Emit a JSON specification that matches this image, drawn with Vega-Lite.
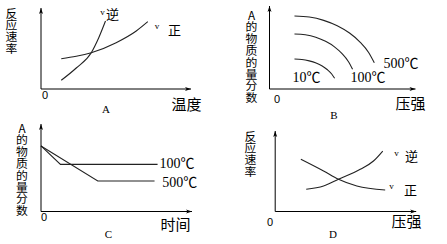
{
  "$schema": "https://vega.github.io/schema/vega-lite/v6.json",
  "padding": {"left": 5, "top": 5, "right": 0, "bottom": 0},
  "background": "white",
  "columns": 2,
  "align": "none",
  "bounds": "flush",
  "spacing": {"row": 35, "column": 77.5},
  "config": {
    "view": {"stroke": null},
    "axis": {"grid": false, "ticks": false, "domain": false, "titleFont": "Noto Sans CJK SC", "titleFontWeight": "normal", "titleColor": "#000", "titleAngle": 0, "titleAlign": "center", "labelFont": "Liberation Sans", "labelFontSize": 11, "labelColor": "#000", "labelFlush": false, "labelOverlap": false},
    "axisX": {"titleBaseline": "middle", "titleFontSize": 15, "labelAlign": "left", "labelBaseline": "top"},
    "axisY": {"labels": false, "titleFontSize": 11.8, "titleLineHeight": 11.8, "titleBaseline": "top"}
  },
  "concat": [
    {
      "width": 150, "height": 83,
      "layer": [
        {
          "data": {"values": [
            {"s": "逆", "x": 13.5, "y": 10.5}, {"s": "逆", "x": 23.5, "y": 25.3}, {"s": "逆", "x": 33.5, "y": 43.7}, {"s": "逆", "x": 38.5, "y": 61.8}, {"s": "逆", "x": 43.0, "y": 81.9},
            {"s": "正", "x": 13.5, "y": 36.5}, {"s": "正", "x": 23.5, "y": 39.4}, {"s": "正", "x": 33.5, "y": 43.7}, {"s": "正", "x": 50.1, "y": 55.8}, {"s": "正", "x": 63.5, "y": 69.9}, {"s": "正", "x": 71.2, "y": 81.1}
          ]},
          "mark": {"type": "line", "interpolate": "monotone", "color": "#222", "strokeWidth": 1.1},
          "encoding": {
            "x": {"field": "x", "type": "quantitative", "scale": {"domain": [0, 100], "nice": false}, "axis": {"title": "温度", "titleX": 145, "titleY": 15, "values": [0], "labelExpr": "'0'", "labelPadding": 0, "labelOffset": 0.5}},
            "y": {"field": "y", "type": "quantitative", "scale": {"domain": [0, 100], "nice": false}, "axis": {"title": ["反", "应", "速", "率"], "titleX": -30, "titleY": 2}},
            "detail": {"field": "s"}
          }
        },
        {
          "data": {"values": [{"x": 0, "x2": 0, "y": 0, "y2": 97.6}, {"x": 0, "x2": 100, "y": 0, "y2": 0}]},
          "mark": {"type": "rule", "color": "#000", "strokeWidth": 1},
          "encoding": {
            "x": {"field": "x", "type": "quantitative", "scale": {"domain": [0, 100], "nice": false}},
            "x2": {"field": "x2"},
            "y": {"field": "y", "type": "quantitative", "scale": {"domain": [0, 100], "nice": false}},
            "y2": {"field": "y2"}
          }
        },
        {
          "data": {"values": [{"x": 0, "y": 97.6, "d": "up"}, {"x": 100, "y": 0, "d": "right"}]},
          "mark": {"type": "point", "filled": true, "opacity": 1, "color": "#000", "strokeWidth": 0, "size": 64},
          "encoding": {
            "x": {"field": "x", "type": "quantitative", "scale": {"domain": [0, 100], "nice": false}},
            "y": {"field": "y", "type": "quantitative", "scale": {"domain": [0, 100], "nice": false}},
            "shape": {"field": "d", "type": "nominal", "scale": {"domain": ["up", "right"], "range": ["M0,0L-0.5,1.5L0,1.1L0.5,1.5Z", "M0,0L-1.5,-0.5L-1.1,0L-1.5,0.5Z"]}, "legend": null}
          }
        },
        {
          "data": {"values": [{"t": "v", "x": 41.0, "y": 92.2}, {"t": "v", "x": 77.3, "y": 75.9}]},
          "mark": {"type": "text", "font": "Liberation Serif", "fontSize": 9, "color": "#000", "align": "center", "baseline": "middle"},
          "encoding": {
            "x": {"field": "x", "type": "quantitative", "scale": {"domain": [0, 100], "nice": false}},
            "y": {"field": "y", "type": "quantitative", "scale": {"domain": [0, 100], "nice": false}},
            "text": {"field": "t"}
          }
        },
        {
          "data": {"values": [{"t": "逆", "x": 47.7, "y": 89.2}, {"t": "正", "x": 89.0, "y": 69.9}]},
          "mark": {"type": "text", "font": "Noto Sans CJK SC", "fontSize": 13, "color": "#000", "align": "center", "baseline": "middle"},
          "encoding": {
            "x": {"field": "x", "type": "quantitative", "scale": {"domain": [0, 100], "nice": false}},
            "y": {"field": "y", "type": "quantitative", "scale": {"domain": [0, 100], "nice": false}},
            "text": {"field": "t"}
          }
        },
        {
          "data": {"values": [{"t": "A", "x": 43.3, "y": -25.9}]},
          "mark": {"type": "text", "font": "Liberation Serif", "fontSize": 11, "color": "#000", "align": "center", "baseline": "middle"},
          "encoding": {
            "x": {"field": "x", "type": "quantitative", "scale": {"domain": [0, 100], "nice": false}},
            "y": {"field": "y", "type": "quantitative", "scale": {"domain": [0, 100], "nice": false}},
            "text": {"field": "t"}
          }
        }
      ]
    },
    {
      "width": 146, "height": 83,
      "layer": [
        {
          "data": {"values": [
            {"s": "500", "x": 17.1, "y": 88.0}, {"s": "500", "x": 27.3, "y": 86.7}, {"s": "500", "x": 37.1, "y": 82.7}, {"s": "500", "x": 46.4, "y": 76.2}, {"s": "500", "x": 54.8, "y": 67.4}, {"s": "500", "x": 62.0, "y": 56.6}, {"s": "500", "x": 67.9, "y": 44.0}, {"s": "500", "x": 71.8, "y": 31.5},
            {"s": "100", "x": 17.1, "y": 66.3}, {"s": "100", "x": 24.5, "y": 65.3}, {"s": "100", "x": 31.7, "y": 62.3}, {"s": "100", "x": 38.4, "y": 57.4}, {"s": "100", "x": 44.5, "y": 50.8}, {"s": "100", "x": 49.7, "y": 42.6}, {"s": "100", "x": 54.0, "y": 33.2}, {"s": "100", "x": 56.9, "y": 23.8},
            {"s": "10", "x": 17.1, "y": 36.1}, {"s": "10", "x": 22.2, "y": 35.6}, {"s": "10", "x": 27.2, "y": 33.9}, {"s": "10", "x": 31.9, "y": 31.3}, {"s": "10", "x": 36.1, "y": 27.7}, {"s": "10", "x": 39.7, "y": 23.2}, {"s": "10", "x": 42.6, "y": 18.1}, {"s": "10", "x": 44.6, "y": 13.0}
          ]},
          "mark": {"type": "line", "interpolate": "monotone", "color": "#222", "strokeWidth": 1.1},
          "encoding": {
            "x": {"field": "x", "type": "quantitative", "scale": {"domain": [0, 100], "nice": false}, "axis": {"title": "压强", "titleX": 140.5, "titleY": 14, "values": [0], "labelExpr": "'0'", "labelPadding": 4, "labelOffset": 4}},
            "y": {"field": "y", "type": "quantitative", "scale": {"domain": [0, 100], "nice": false}, "axis": {"title": ["A", "的", "物", "质", "的", "量", "分", "数"], "titleX": -18.5, "titleY": 4}},
            "detail": {"field": "s"}
          }
        },
        {
          "data": {"values": [{"x": 0, "x2": 0, "y": 0, "y2": 100}, {"x": 0, "x2": 100, "y": 0, "y2": 0}]},
          "mark": {"type": "rule", "color": "#000", "strokeWidth": 1},
          "encoding": {
            "x": {"field": "x", "type": "quantitative", "scale": {"domain": [0, 100], "nice": false}},
            "x2": {"field": "x2"},
            "y": {"field": "y", "type": "quantitative", "scale": {"domain": [0, 100], "nice": false}},
            "y2": {"field": "y2"}
          }
        },
        {
          "data": {"values": [{"x": 0, "y": 100, "d": "up"}, {"x": 100, "y": 0, "d": "right"}]},
          "mark": {"type": "point", "filled": true, "opacity": 1, "color": "#000", "strokeWidth": 0, "size": 64},
          "encoding": {
            "x": {"field": "x", "type": "quantitative", "scale": {"domain": [0, 100], "nice": false}},
            "y": {"field": "y", "type": "quantitative", "scale": {"domain": [0, 100], "nice": false}},
            "shape": {"field": "d", "type": "nominal", "scale": {"domain": ["up", "right"], "range": ["M0,0L-0.5,1.5L0,1.1L0.5,1.5Z", "M0,0L-1.5,-0.5L-1.1,0L-1.5,0.5Z"]}, "legend": null}
          }
        },
        {
          "data": {"values": [{"t": "500℃", "x": 78.1, "y": 30.7}, {"t": "100℃", "x": 55.5, "y": 13.3}, {"t": "10℃", "x": 15.8, "y": 13.3}]},
          "mark": {"type": "text", "font": "Liberation Serif, Noto Sans CJK SC", "fontSize": 14, "color": "#000", "align": "left", "baseline": "middle"},
          "encoding": {
            "x": {"field": "x", "type": "quantitative", "scale": {"domain": [0, 100], "nice": false}},
            "y": {"field": "y", "type": "quantitative", "scale": {"domain": [0, 100], "nice": false}},
            "text": {"field": "t"}
          }
        },
        {
          "data": {"values": [{"t": "B", "x": 44.2, "y": -32.5}]},
          "mark": {"type": "text", "font": "Liberation Serif", "fontSize": 11, "color": "#000", "align": "center", "baseline": "middle"},
          "encoding": {
            "x": {"field": "x", "type": "quantitative", "scale": {"domain": [0, 100], "nice": false}},
            "y": {"field": "y", "type": "quantitative", "scale": {"domain": [0, 100], "nice": false}},
            "text": {"field": "t"}
          }
        }
      ]
    },
    {
      "width": 151, "height": 87.5,
      "layer": [
        {
          "data": {"values": [
            {"s": "100", "x": 0, "y": 74.9}, {"s": "100", "x": 12.9, "y": 53.9}, {"s": "100", "x": 77.2, "y": 53.9},
            {"s": "500", "x": 0, "y": 74.9}, {"s": "500", "x": 37.6, "y": 34.9}, {"s": "500", "x": 75.2, "y": 34.9}
          ]},
          "mark": {"type": "line", "color": "#222", "strokeWidth": 1.1},
          "encoding": {
            "x": {"field": "x", "type": "quantitative", "scale": {"domain": [0, 100], "nice": false}, "axis": {"title": "时间", "titleX": 134, "titleY": 13, "values": [0], "labelExpr": "'0'", "labelPadding": 0, "labelOffset": -0.5}},
            "y": {"field": "y", "type": "quantitative", "scale": {"domain": [0, 100], "nice": false}, "axis": {"title": ["A", "的", "物", "质", "的", "量", "分", "数"], "titleX": -19.5, "titleY": -1}},
            "detail": {"field": "s"}
          }
        },
        {
          "data": {"values": [{"x": 0, "x2": 0, "y": 0, "y2": 100}, {"x": 0, "x2": 100, "y": 0, "y2": 0}]},
          "mark": {"type": "rule", "color": "#000", "strokeWidth": 1},
          "encoding": {
            "x": {"field": "x", "type": "quantitative", "scale": {"domain": [0, 100], "nice": false}},
            "x2": {"field": "x2"},
            "y": {"field": "y", "type": "quantitative", "scale": {"domain": [0, 100], "nice": false}},
            "y2": {"field": "y2"}
          }
        },
        {
          "data": {"values": [{"x": 0, "y": 100, "d": "up"}, {"x": 100, "y": 0, "d": "right"}]},
          "mark": {"type": "point", "filled": true, "opacity": 1, "color": "#000", "strokeWidth": 0, "size": 64},
          "encoding": {
            "x": {"field": "x", "type": "quantitative", "scale": {"domain": [0, 100], "nice": false}},
            "y": {"field": "y", "type": "quantitative", "scale": {"domain": [0, 100], "nice": false}},
            "shape": {"field": "d", "type": "nominal", "scale": {"domain": ["up", "right"], "range": ["M0,0L-0.5,1.5L0,1.1L0.5,1.5Z", "M0,0L-1.5,-0.5L-1.1,0L-1.5,0.5Z"]}, "legend": null}
          }
        },
        {
          "data": {"values": [{"t": "100℃", "x": 78.5, "y": 53.9}, {"t": "500℃", "x": 80.3, "y": 32.9}]},
          "mark": {"type": "text", "font": "Liberation Serif, Noto Sans CJK SC", "fontSize": 14, "color": "#000", "align": "left", "baseline": "middle"},
          "encoding": {
            "x": {"field": "x", "type": "quantitative", "scale": {"domain": [0, 100], "nice": false}},
            "y": {"field": "y", "type": "quantitative", "scale": {"domain": [0, 100], "nice": false}},
            "text": {"field": "t"}
          }
        },
        {
          "data": {"values": [{"t": "C", "x": 44.7, "y": -26.3}]},
          "mark": {"type": "text", "font": "Liberation Serif", "fontSize": 11, "color": "#000", "align": "center", "baseline": "middle"},
          "encoding": {
            "x": {"field": "x", "type": "quantitative", "scale": {"domain": [0, 100], "nice": false}},
            "y": {"field": "y", "type": "quantitative", "scale": {"domain": [0, 100], "nice": false}},
            "text": {"field": "t"}
          }
        }
      ]
    },
    {
      "width": 146.7, "height": 87.5,
      "layer": [
        {
          "data": {"values": [
            {"s": "正", "x": 18.2, "y": 59.7}, {"s": "正", "x": 34.3, "y": 46.3}, {"s": "正", "x": 44.9, "y": 36.8}, {"s": "正", "x": 57.9, "y": 29.1}, {"s": "正", "x": 78.0, "y": 24.6},
            {"s": "逆", "x": 22.0, "y": 25.4}, {"s": "逆", "x": 34.3, "y": 29.1}, {"s": "逆", "x": 44.9, "y": 36.8}, {"s": "逆", "x": 60.3, "y": 48.2}, {"s": "逆", "x": 69.7, "y": 57.7}, {"s": "逆", "x": 76.3, "y": 69.1}
          ]},
          "mark": {"type": "line", "interpolate": "monotone", "color": "#222", "strokeWidth": 1.1},
          "encoding": {
            "x": {"field": "x", "type": "quantitative", "scale": {"domain": [-4.04, 100], "nice": false}, "axis": {"title": "压强", "titleX": 136.5, "titleY": 10, "values": [0], "labelExpr": "'0'", "labelPadding": 4.5, "labelOffset": -8.7}},
            "y": {"field": "y", "type": "quantitative", "scale": {"domain": [0, 100], "nice": false}, "axis": {"title": ["反", "应", "速", "率"], "titleX": -19.5, "titleY": 7}},
            "detail": {"field": "s"}
          }
        },
        {
          "data": {"values": [{"x": 0, "x2": 0, "y": 0, "y2": 92}, {"x": 0, "x2": 100, "y": 0, "y2": 0}]},
          "mark": {"type": "rule", "color": "#000", "strokeWidth": 1},
          "encoding": {
            "x": {"field": "x", "type": "quantitative", "scale": {"domain": [-4.04, 100], "nice": false}},
            "x2": {"field": "x2"},
            "y": {"field": "y", "type": "quantitative", "scale": {"domain": [0, 100], "nice": false}},
            "y2": {"field": "y2"}
          }
        },
        {
          "data": {"values": [{"x": 0, "y": 92, "d": "up"}, {"x": 100, "y": 0, "d": "right"}]},
          "mark": {"type": "point", "filled": true, "opacity": 1, "color": "#000", "strokeWidth": 0, "size": 64},
          "encoding": {
            "x": {"field": "x", "type": "quantitative", "scale": {"domain": [-4.04, 100], "nice": false}},
            "y": {"field": "y", "type": "quantitative", "scale": {"domain": [0, 100], "nice": false}},
            "shape": {"field": "d", "type": "nominal", "scale": {"domain": ["up", "right"], "range": ["M0,0L-0.5,1.5L0,1.1L0.5,1.5Z", "M0,0L-1.5,-0.5L-1.1,0L-1.5,0.5Z"]}, "legend": null}
          }
        },
        {
          "data": {"values": [{"t": "v", "x": 86.0, "y": 66.9}, {"t": "v", "x": 82.5, "y": 29.1}]},
          "mark": {"type": "text", "font": "Liberation Serif", "fontSize": 9, "color": "#000", "align": "center", "baseline": "middle"},
          "encoding": {
            "x": {"field": "x", "type": "quantitative", "scale": {"domain": [-4.04, 100], "nice": false}},
            "y": {"field": "y", "type": "quantitative", "scale": {"domain": [0, 100], "nice": false}},
            "text": {"field": "t"}
          }
        },
        {
          "data": {"values": [{"t": "逆", "x": 96.7, "y": 62.3}, {"t": "正", "x": 96.0, "y": 22.9}]},
          "mark": {"type": "text", "font": "Noto Sans CJK SC", "fontSize": 13, "color": "#000", "align": "center", "baseline": "middle"},
          "encoding": {
            "x": {"field": "x", "type": "quantitative", "scale": {"domain": [-4.04, 100], "nice": false}},
            "y": {"field": "y", "type": "quantitative", "scale": {"domain": [0, 100], "nice": false}},
            "text": {"field": "t"}
          }
        },
        {
          "data": {"values": [{"t": "D", "x": 41.0, "y": -26.3}]},
          "mark": {"type": "text", "font": "Liberation Serif", "fontSize": 11, "color": "#000", "align": "center", "baseline": "middle"},
          "encoding": {
            "x": {"field": "x", "type": "quantitative", "scale": {"domain": [-4.04, 100], "nice": false}},
            "y": {"field": "y", "type": "quantitative", "scale": {"domain": [0, 100], "nice": false}},
            "text": {"field": "t"}
          }
        }
      ]
    }
  ]
}
